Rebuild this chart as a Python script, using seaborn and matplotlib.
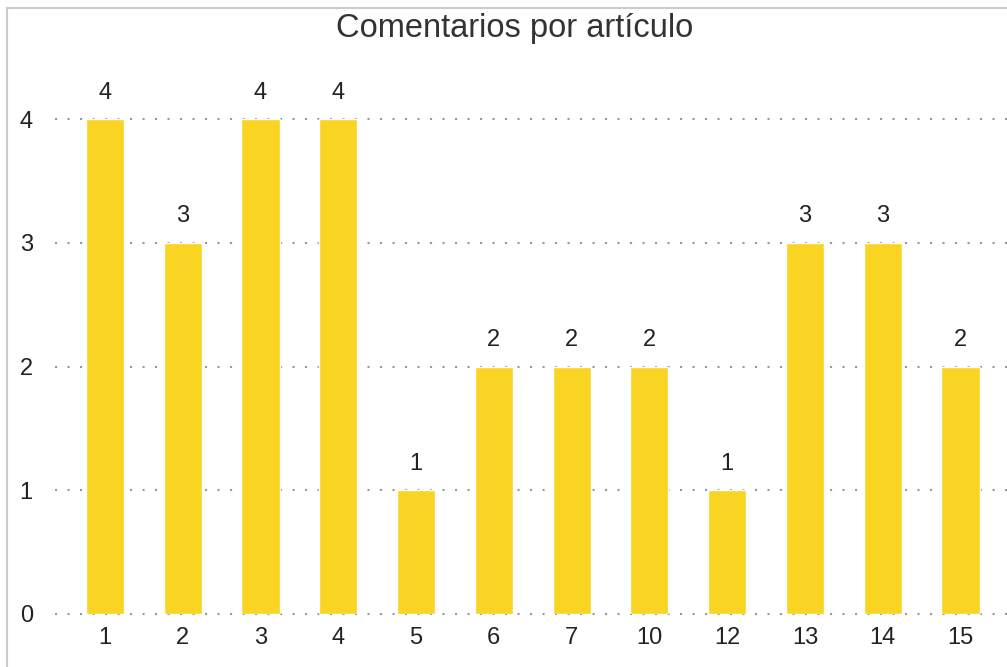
import matplotlib
matplotlib.use("Agg")
import matplotlib.pyplot as plt
from matplotlib.patches import Rectangle
import seaborn as sns
import pandas as pd

# datos
articulos = ["1", "2", "3", "4", "5", "6", "7", "10", "12", "13", "14", "15"]
comentarios = [4, 3, 4, 4, 1, 2, 2, 2, 1, 3, 3, 2]
y_ticks = [0, 1, 2, 3, 4]

df = pd.DataFrame({"articulo": articulos, "comentarios": comentarios})

sns.set_theme(style="white")
plt.rcParams["font.family"] = ["Liberation Sans", "DejaVu Sans"]

W, H = 1007, 667
fig = plt.figure(figsize=(W / 100, H / 100), dpi=100)

# área del gráfico en píxeles: izq 55, abajo 614, arriba 50
ax = fig.add_axes([55 / W, (H - 614) / H, 1 - 55 / W, (614 - 50) / H])

sns.barplot(data=df, x="articulo", y="comentarios", order=articulos,
            color="#F9D423", saturation=1, width=0.49, ax=ax, zorder=3)

px_bar = 77.77
ax.set_xlim((55 - 105) / px_bar, (W - 105) / px_bar)
ax.set_ylim(0, (614 - 50) / 123.75)
ax.set_yticks(y_ticks)

ax.grid(axis="y", color="#999999", linestyle=(0, (1, 5)), linewidth=1.5,
        dash_capstyle="butt", zorder=0)
for gl in ax.get_ygridlines():
    gl.set_clip_on(False)
ax.set_axisbelow(True)

for s in ax.spines.values():
    s.set_visible(False)

ax.tick_params(axis="both", length=0, labelsize=17, colors="#222222")
ax.tick_params(axis="y", pad=16)
ax.tick_params(axis="x", pad=9)
ax.set_xlabel("")
ax.set_ylabel("")

ax.bar_label(ax.containers[0], labels=[str(v) for v in comentarios],
             padding=11, fontsize=17, color="#222222")

fig.text(515 / W, 1 - 37 / H, "Comentarios por artículo", ha="center",
         va="baseline", fontsize=23.5, color="#333333")

# marco gris del contenedor
fig.add_artist(Rectangle((7 / W, -0.1), 1.2, 1 - 8 / H + 0.1,
                         transform=fig.transFigure, fill=False,
                         edgecolor="#cccccc", linewidth=1.5))

fig.savefig("out.png", dpi=100)
